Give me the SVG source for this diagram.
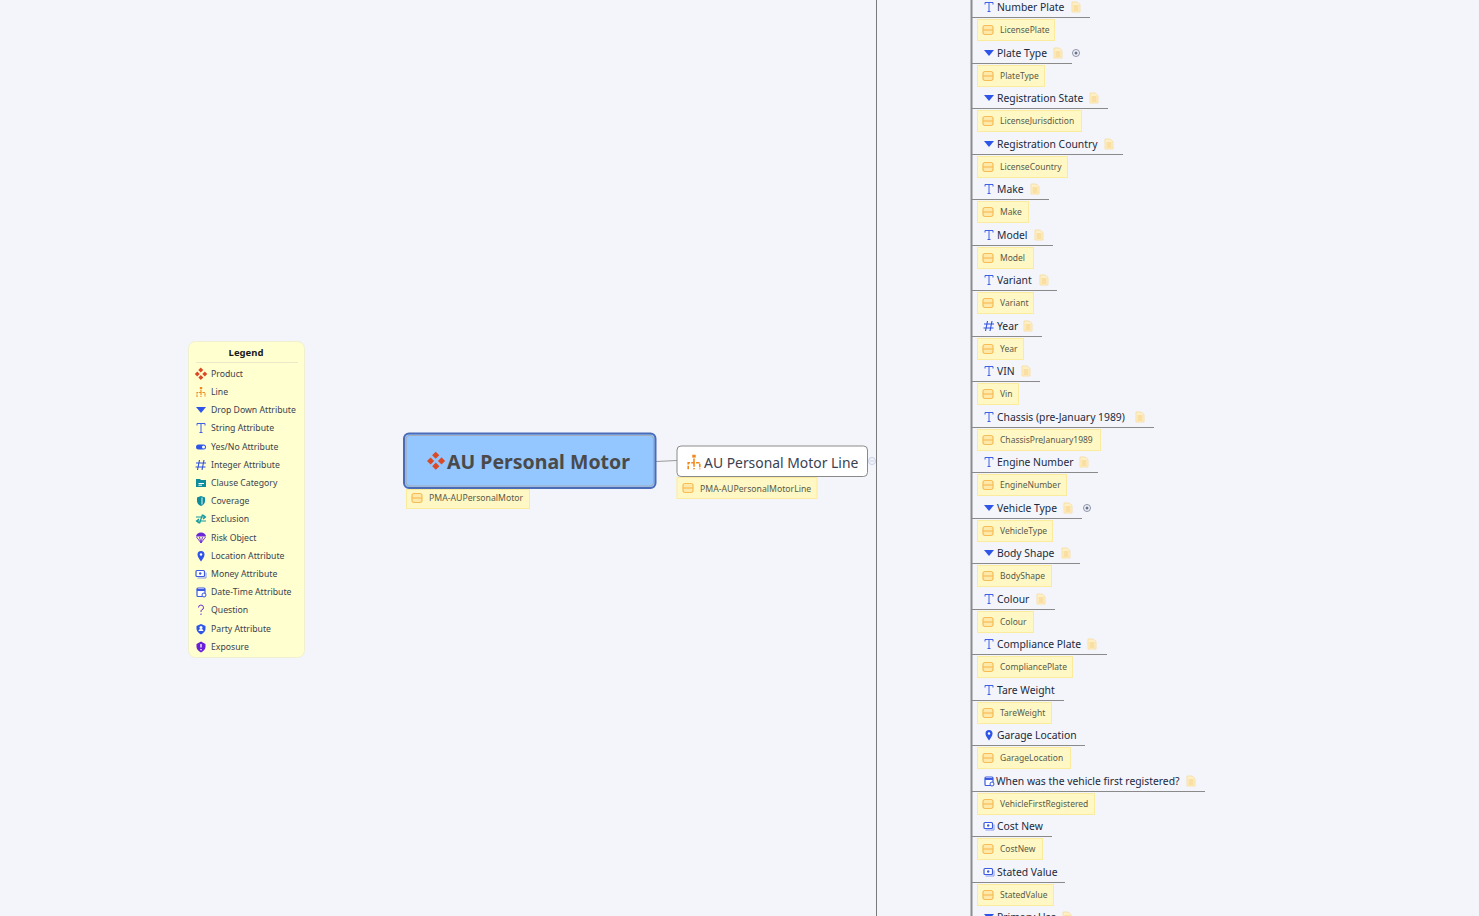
<svg xmlns="http://www.w3.org/2000/svg" width="1479" height="916" viewBox="0 0 1479 916">
<style>
text{font-family:"Noto Sans","Open Sans","Liberation Sans",sans-serif}
.t{font-size:10.350px;fill:#1c2a40}
.g{font-size:8.500px;fill:#5a5a4a}
.r{font-size:8.700px;fill:#5a5a4a}
.l{font-size:8.700px;fill:#3c4250}
.tag{fill:#fff8c4;stroke:#fbeb9c;stroke-width:1}
.ln{stroke:#8a8a8a;stroke-width:1;fill:none}
</style>
<defs>
<g id="i-tag"><rect x="-5" y="-4.500" width="10" height="9" rx="2" fill="#ffe9a8" stroke="#f6bc55" stroke-width="1.200"/><path d="M-5 0H5" stroke="#f6bc55" stroke-width="1.200"/></g>
<g id="i-note"><path d="M-4 -5H1L4 -2.500V5H-4Z" fill="#fff0c8" stroke="#f7dc9d" stroke-width=".8"/><path d="M-2.500 -1H2.500M-2.500 1H2.500M-2.500 3H2.500" stroke="#f3c56c" stroke-width=".8"/></g>
<path id="i-drop" d="M-5 -3H5L0 3Z" fill="#2f55e8"/>
<path id="i-str" d="M-4 -2.500V-4.500H4V-2.500M0 -4.500V4.500M-1.500 4.500H1.500" fill="none" stroke="#3f5fe8" stroke-width="1"/>
<path id="i-int" d="M-1.500 -5L-3.500 5M3 -5L1 5M-5 -2H5M-5.500 2H4.500" fill="none" stroke="#3050e0" stroke-width="1.100"/>
<g id="i-loc"><path d="M0 5.500C-2 2.500 -3.500 1 -3.500 -1.500A3.500 3.500 0 0 1 3.500 -1.500C3.500 1 2 2.500 0 5.500Z" fill="#2f55e8"/><circle cy="-1.500" r="1.200" fill="#fff"/></g>
<g id="i-money"><rect x="-5" y="-3.500" width="8.500" height="6" rx="1" fill="#fff" stroke="#3d5ae0" stroke-width="1.200"/><circle cx="-.8" cy="-.5" r="1.200" fill="#3d5ae0"/><path d="M-3.500 4H5V-1.500" fill="none" stroke="#8a9cf0" stroke-width="1"/></g>
<g id="i-date"><rect x="-4" y="-4" width="8" height="8.500" rx="1" fill="#fff" stroke="#3d5ae0" stroke-width="1.200"/><path d="M-4 -3H4V-1H-4Z" fill="#3d5ae0"/><circle cx="3" cy="3" r="2" fill="#fff" stroke="#3d5ae0"/></g>
<g id="i-prod" fill="#db4a26"><rect x="-2" y="-5.500" width="3.500" height="3.500" transform="rotate(45 0 -3.800)"/><rect x="-2" y="2" width="3.500" height="3.500" transform="rotate(45 0 3.800)"/><rect x="-5.500" y="-1.800" width="3.500" height="3.500" transform="rotate(45 -3.800 0)"/><rect x="2" y="-1.800" width="3.500" height="3.500" transform="rotate(45 3.800 0)"/></g>
<g id="i-line" fill="none" stroke="#f08a1e" stroke-width="1.100"><path d="M0 -2.500V5M-4 5V.5H4V5" stroke-dasharray="2.500 .8"/><rect x="-1.200" y="-5" width="2.400" height="2" fill="#f08a1e" stroke="none"/></g>
<g id="i-yn"><rect x="-5" y="-2.500" width="10" height="5" rx="2.500" fill="#2f55e8"/><circle cx="2.500" r="1.500" fill="#fff"/></g>
<g id="i-cat"><path d="M-5 -4H-1L0 -3H5V4H-5Z" fill="#0e8c9c"/><path d="M-2.500 .5H3M-2.500 2.200H1" stroke="#fff" stroke-width="1"/></g>
<g id="i-cov"><path d="M-4 -3.500L0 -5L4 -3.500V0C4 2.500 2 4.500 0 5C-2 4.500 -4 2.500 -4 0Z" fill="#0e8c9c"/><path d="M1 -3.500V3.500" stroke="#fff" stroke-width=".9"/></g>
<path id="i-exc" d="M-5 -2H4M2 -4L4.500 -2L2 0M5 2H-4M-2 0L-4.500 2L-2 4M1.500 -4.500L-1.500 4.500" fill="none" stroke="#0e9aa0" stroke-width="1.200"/>
<g id="i-risk"><path d="M-5 -1.500A5 4 0 0 1 5 -1.500Z" fill="#6a28d8"/><path d="M-4.500 -1L0 5L4.500 -1M-1.500 -1L0 5L1.500 -1" fill="none" stroke="#6a28d8" stroke-width=".9"/></g>
<path id="i-q" d="M-2.500 -2.500A2.500 2.500 0 1 1 .5 0C0 .5 0 1 0 2M0 3.500V5" fill="none" stroke="#6a28d8" stroke-width="1"/>
<g id="i-party"><path d="M-4.500 -3L0 -5L4.500 -3V0C4.500 2.500 2 4.500 0 5.500C-2 4.500 -4.500 2.500 -4.500 0Z" fill="#2f55e8"/><circle cy="-1.500" r="1.500" fill="#fff"/><path d="M-2.500 2A2.500 2 0 0 1 2.500 2" fill="#fff"/></g>
<g id="i-exp"><path d="M-4.500 -3L0 -5.500L4.500 -3V0C4.500 2.500 2 4.500 0 5.500C-2 4.500 -4.500 2.500 -4.500 0Z" fill="#6a1fd8"/><path d="M0 -3V.5M0 2V3.200" stroke="#fff" stroke-width="1.300"/></g>
<g id="i-more"><circle r="3.500" fill="none" stroke="#8a92a8"/><circle r="1.500" fill="#6a7288"/></g>
</defs>
<rect width="1479" height="916" fill="#f3f5fa"/>

<g id="connectors">
<path d="M876.500 0V916" stroke="#7a7a7a" stroke-width="1" fill="none"/>
<path d="M971.500 0V916" stroke="#8c8c8c" stroke-width="2" fill="none"/>
<path d="M656 461.500L677 460.500" stroke="#9a9a9a" stroke-width="1" fill="none"/>
<path class="ln" d="M971 17.500H1090M971 63.500H1072M971 108.500H1108M971 154.500H1123M971 199.500H1049M971 245.500H1053M971 290.500H1057M971 336.500H1042M971 381.500H1040M971 427.500H1154M971 472.500H1098M971 518.500H1082M971 563.500H1080M971 609.500H1055M971 654.500H1107M971 700.500H1064M971 745.500H1085M971 791.500H1205M971 836.500H1052M971 882.500H1065"/>
</g>

<g id="legend">
<rect x="188.500" y="341.500" width="116" height="316" rx="7" fill="#ffffcf" stroke="#f0f0d0"/>
<text x="246" y="356" text-anchor="middle" style="font-size:9.500px;font-weight:700;fill:#1a1a1a">Legend</text>
<path d="M196 362.500H298" stroke="#eaeaca"/>
<use href="#i-prod" x="201" y="374"/><text class="l" x="211" y="377">Product</text>
<use href="#i-line" x="201" y="392"/><text class="l" x="211" y="395">Line</text>
<use href="#i-drop" x="201" y="410"/><text class="l" x="211" y="413">Drop Down Attribute</text>
<use href="#i-str" x="201" y="428"/><text class="l" x="211" y="431">String Attribute</text>
<use href="#i-yn" x="201" y="447"/><text class="l" x="211" y="450">Yes/No Attribute</text>
<use href="#i-int" x="201" y="465"/><text class="l" x="211" y="468">Integer Attribute</text>
<use href="#i-cat" x="201" y="483"/><text class="l" x="211" y="486">Clause Category</text>
<use href="#i-cov" x="201" y="501"/><text class="l" x="211" y="504">Coverage</text>
<use href="#i-exc" x="201" y="519"/><text class="l" x="211" y="522">Exclusion</text>
<use href="#i-risk" x="201" y="538"/><text class="l" x="211" y="541">Risk Object</text>
<use href="#i-loc" x="201" y="556"/><text class="l" x="211" y="559">Location Attribute</text>
<use href="#i-money" x="201" y="574"/><text class="l" x="211" y="577">Money Attribute</text>
<use href="#i-date" x="201" y="592"/><text class="l" x="211" y="595">Date-Time Attribute</text>
<use href="#i-q" x="201" y="610"/><text class="l" x="211" y="613">Question</text>
<use href="#i-party" x="201" y="629"/><text class="l" x="211" y="632">Party Attribute</text>
<use href="#i-exp" x="201" y="647"/><text class="l" x="211" y="650">Exposure</text>
</g>

<g id="root">
<rect x="404" y="433.500" width="251.500" height="54.500" rx="5" fill="#94c6ff" stroke="#4a6cb8" stroke-width="2"/>
<rect x="406" y="435.500" width="247.500" height="50.500" rx="4" fill="none" stroke="#a4aab6" stroke-width="1.200"/>
<use href="#i-prod" transform="translate(436 461) scale(1.450)"/>
<text x="447" y="469" style="font-size:19.500px;font-weight:700;fill:#4a4a4a">AU Personal Motor</text>
<rect class="tag" x="406.500" y="489.500" width="123" height="19"/>
<use href="#i-tag" x="417" y="498"/>
<text class="r" x="429" y="501">PMA-AUPersonalMotor</text>
</g>

<g id="line-node">
<rect x="677" y="446" width="190.500" height="30.500" rx="4" fill="#fff" stroke="#8a8a8a"/>
<use href="#i-line" transform="translate(694 462) scale(1.450)"/>
<text x="704" y="468" style="font-size:13.900px;fill:#3a4150">AU Personal Motor Line</text>
<circle cx="872" cy="461" r="3.500" fill="none" stroke="#c6cfe6"/><path d="M870 461H874" stroke="#c6cfe6"/>
<rect class="tag" x="677" y="477.500" width="140" height="21"/>
<use href="#i-tag" x="688" y="488"/>
<text class="r" x="700" y="492">PMA-AUPersonalMotorLine</text>
</g>

<g id="n-number-plate"><use href="#i-str" x="989" y="7"/><text class="t" x="997" y="11">Number Plate</text><use href="#i-note" x="1076" y="7"/><rect class="tag" x="977.500" y="19.500" width="77" height="21"/><use href="#i-tag" x="988" y="30"/><text class="g" x="1000" y="33">LicensePlate</text></g>
<g id="n-plate-type"><use href="#i-drop" x="989" y="53"/><text class="t" x="997" y="57">Plate Type</text><use href="#i-note" x="1058" y="53"/><use href="#i-more" x="1076" y="53"/><rect class="tag" x="977.500" y="65.500" width="67" height="21"/><use href="#i-tag" x="988" y="76"/><text class="g" x="1000" y="79">PlateType</text></g>
<g id="n-reg-state"><use href="#i-drop" x="989" y="98"/><text class="t" x="997" y="102">Registration State</text><use href="#i-note" x="1094" y="98"/><rect class="tag" x="977.500" y="110.500" width="104" height="21"/><use href="#i-tag" x="988" y="121"/><text class="g" x="1000" y="124">LicenseJurisdiction</text></g>
<g id="n-reg-country"><use href="#i-drop" x="989" y="144"/><text class="t" x="997" y="148">Registration Country</text><use href="#i-note" x="1109" y="144"/><rect class="tag" x="977.500" y="156.500" width="90" height="21"/><use href="#i-tag" x="988" y="167"/><text class="g" x="1000" y="170">LicenseCountry</text></g>
<g id="n-make"><use href="#i-str" x="989" y="189"/><text class="t" x="997" y="193">Make</text><use href="#i-note" x="1035" y="189"/><rect class="tag" x="977.500" y="201.500" width="51" height="21"/><use href="#i-tag" x="988" y="212"/><text class="g" x="1000" y="215">Make</text></g>
<g id="n-model"><use href="#i-str" x="989" y="235"/><text class="t" x="997" y="239">Model</text><use href="#i-note" x="1039" y="235"/><rect class="tag" x="977.500" y="247.500" width="56" height="21"/><use href="#i-tag" x="988" y="258"/><text class="g" x="1000" y="261">Model</text></g>
<g id="n-variant"><use href="#i-str" x="989" y="280"/><text class="t" x="997" y="284">Variant</text><use href="#i-note" x="1044" y="280"/><rect class="tag" x="977.500" y="292.500" width="56" height="21"/><use href="#i-tag" x="988" y="303"/><text class="g" x="1000" y="306">Variant</text></g>
<g id="n-year"><use href="#i-int" x="989" y="326"/><text class="t" x="997" y="330">Year</text><use href="#i-note" x="1028" y="326"/><rect class="tag" x="977.500" y="338.500" width="46" height="21"/><use href="#i-tag" x="988" y="349"/><text class="g" x="1000" y="352">Year</text></g>
<g id="n-vin"><use href="#i-str" x="989" y="371"/><text class="t" x="997" y="375">VIN</text><use href="#i-note" x="1026" y="371"/><rect class="tag" x="977.500" y="383.500" width="41" height="21"/><use href="#i-tag" x="988" y="394"/><text class="g" x="1000" y="397">Vin</text></g>
<g id="n-chassis"><use href="#i-str" x="989" y="417"/><text class="t" x="997" y="421">Chassis (pre-January 1989)</text><use href="#i-note" x="1140" y="417"/><rect class="tag" x="977.500" y="429.500" width="123" height="21"/><use href="#i-tag" x="988" y="440"/><text class="g" x="1000" y="443">ChassisPreJanuary1989</text></g>
<g id="n-engine"><use href="#i-str" x="989" y="462"/><text class="t" x="997" y="466">Engine Number</text><use href="#i-note" x="1084" y="462"/><rect class="tag" x="977.500" y="474.500" width="89" height="21"/><use href="#i-tag" x="988" y="485"/><text class="g" x="1000" y="488">EngineNumber</text></g>
<g id="n-vehicle-type"><use href="#i-drop" x="989" y="508"/><text class="t" x="997" y="512">Vehicle Type</text><use href="#i-note" x="1068" y="508"/><use href="#i-more" x="1087" y="508"/><rect class="tag" x="977.500" y="520.500" width="75" height="21"/><use href="#i-tag" x="988" y="531"/><text class="g" x="1000" y="534">VehicleType</text></g>
<g id="n-body-shape"><use href="#i-drop" x="989" y="553"/><text class="t" x="997" y="557">Body Shape</text><use href="#i-note" x="1066" y="553"/><rect class="tag" x="977.500" y="565.500" width="74" height="21"/><use href="#i-tag" x="988" y="576"/><text class="g" x="1000" y="579">BodyShape</text></g>
<g id="n-colour"><use href="#i-str" x="989" y="599"/><text class="t" x="997" y="603">Colour</text><use href="#i-note" x="1041" y="599"/><rect class="tag" x="977.500" y="611.500" width="56" height="21"/><use href="#i-tag" x="988" y="622"/><text class="g" x="1000" y="625">Colour</text></g>
<g id="n-compliance"><use href="#i-str" x="989" y="644"/><text class="t" x="997" y="648">Compliance Plate</text><use href="#i-note" x="1092" y="644"/><rect class="tag" x="977.500" y="656.500" width="95" height="21"/><use href="#i-tag" x="988" y="667"/><text class="g" x="1000" y="670">CompliancePlate</text></g>
<g id="n-tare"><use href="#i-str" x="989" y="690"/><text class="t" x="997" y="694">Tare Weight</text><rect class="tag" x="977.500" y="702.500" width="74" height="21"/><use href="#i-tag" x="988" y="713"/><text class="g" x="1000" y="716">TareWeight</text></g>
<g id="n-garage"><use href="#i-loc" x="989" y="735"/><text class="t" x="997" y="739">Garage Location</text><rect class="tag" x="977.500" y="747.500" width="93" height="21"/><use href="#i-tag" x="988" y="758"/><text class="g" x="1000" y="761">GarageLocation</text></g>
<g id="n-first-reg"><use href="#i-date" x="989" y="781"/><text class="t" x="996" y="785">When was the vehicle first registered?</text><use href="#i-note" x="1191" y="781"/><rect class="tag" x="977.500" y="793.500" width="117" height="21"/><use href="#i-tag" x="988" y="804"/><text class="g" x="1000" y="807">VehicleFirstRegistered</text></g>
<g id="n-cost-new"><use href="#i-money" x="989" y="826"/><text class="t" x="997" y="830">Cost New</text><rect class="tag" x="977.500" y="838.500" width="65" height="21"/><use href="#i-tag" x="988" y="849"/><text class="g" x="1000" y="852">CostNew</text></g>
<g id="n-stated"><use href="#i-money" x="989" y="872"/><text class="t" x="997" y="876">Stated Value</text><rect class="tag" x="977.500" y="884.500" width="76" height="21"/><use href="#i-tag" x="988" y="895"/><text class="g" x="1000" y="898">StatedValue</text></g>
<g id="n-primary-use"><use href="#i-drop" x="989" y="917"/><text class="t" x="997" y="921">Primary Use</text><use href="#i-note" x="1067" y="917"/></g>
</svg>
